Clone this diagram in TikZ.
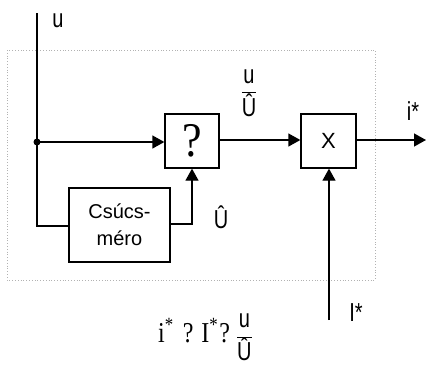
\documentclass[tikz,border=0pt]{standalone}
\usepackage{fontspec}
\usepackage{graphicx}
\setmainfont{Liberation Sans}
\newfontfamily\tms{Liberation Serif}
\usetikzlibrary{arrows.meta}
\newcommand{\tall}[1]{\scalebox{1}[1.3]{#1}}
\newcommand{\mfrac}[2]{$\displaystyle\frac{\mbox{\fontsize{20}{22}\selectfont\tall{#1}}}{\mbox{\fontsize{20}{22}\selectfont\tall{#2}}}$}
\begin{document}
\begin{tikzpicture}[x=1pt,y=-1pt,
  blk/.style={draw,line width=1.3pt,inner sep=0pt,font=\fontsize{20}{27}\selectfont},
  wire/.style={line width=1.3pt},
  arr/.style={wire,-{Triangle[length=12pt,width=13pt]}},
  lbl/.style={inner sep=0pt,font=\fontsize{20}{22}\selectfont}]
\useasboundingbox (0,0) rectangle (426,367);
\draw[gray!60,dotted,line width=0.8pt] (7,50) rectangle (375,280);
\node[blk,minimum width=54pt,minimum height=54pt] (q) at (192,141) {\tms\fontsize{44}{46}\selectfont\scalebox{1}[1.1]{?}};
\node[blk,minimum width=55pt,minimum height=54pt] (x) at (328.5,141) {\fontsize{22}{24}\selectfont X};
\node[blk,minimum width=101pt,minimum height=74pt,align=center] (cs) at (119.5,225) {Csúcs-\\méro};
\coordinate (top) at (37,13);
\coordinate (dot) at (37,142);
\coordinate (c1) at (37,226);
\coordinate (c2) at (192,224);
\coordinate (out) at (426,140);
\coordinate (ibot) at (329,320);
\fill (dot) circle (3.5pt);
\draw[wire] (top) -- (c1) -- (cs.west |- c1);
\draw[arr] (dot) -- (q.west |- dot);
\draw[arr] (cs.east |- c2) -- (c2) -- (q.south);
\draw[arr] (q.east |- 0,140) -- (x.west |- 0,140);
\draw[arr] (x.east |- 0,140) -- (out);
\draw[arr] (ibot) -- (ibot |- x.south);
\node[lbl] (lu) at (58,21) {\tall{u}};
\node[lbl] (lfrac) at (249,93) {\mfrac{u}{Û}};
\node[lbl] (li) at (413,111) {\tall{i*}};
\node[lbl] (lU) at (221,217) {\tall{Û}};
\node[lbl] (lI) at (356,313) {\tall{I*}};
\node[lbl,anchor=base west] (form) at (158,342) {\scalebox{1}[1.2]{\tms\fontsize{24}{26}\selectfont i\textsuperscript{*}\hspace{3pt} ? I\textsuperscript{*}\hspace{1pt}?}\hspace{6pt}\mfrac{u}{Û}};
\end{tikzpicture}
\end{document}
